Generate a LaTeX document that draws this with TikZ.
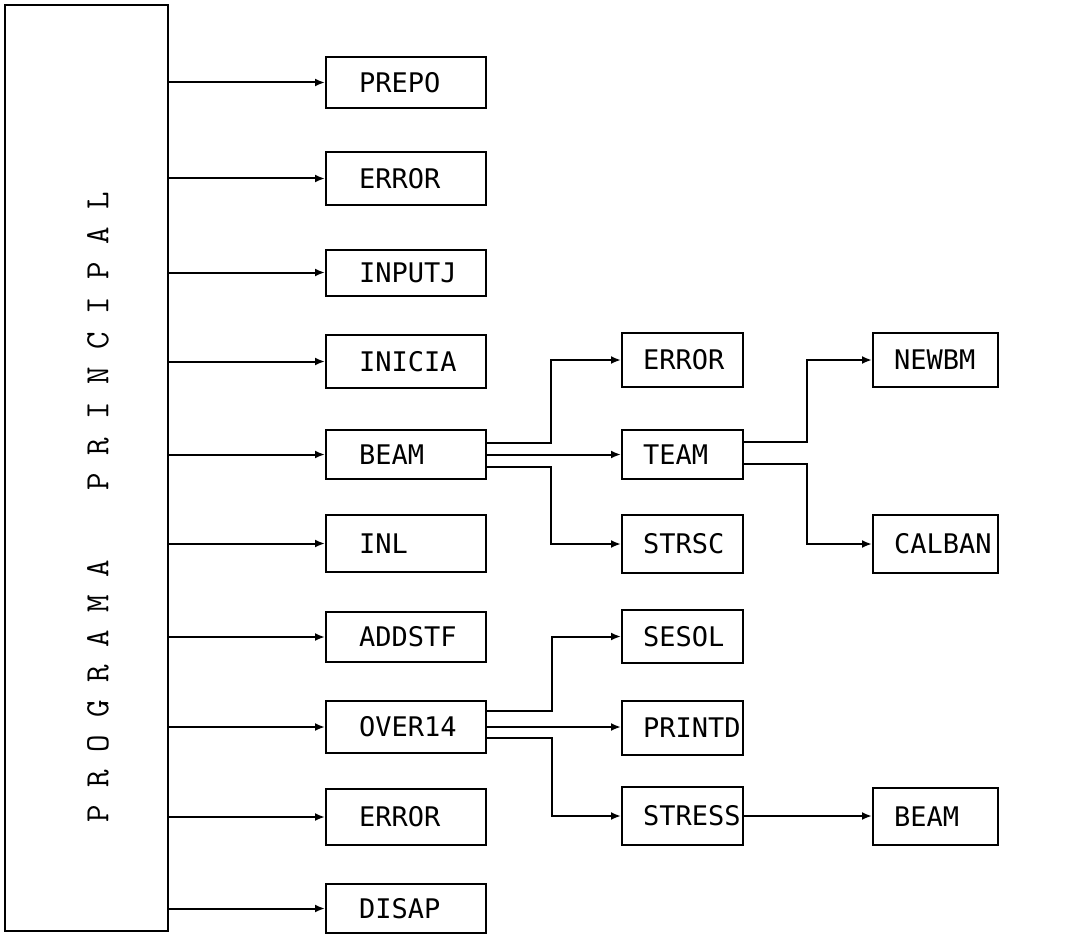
\documentclass[tikz,border=0pt]{standalone}
\usepackage{fontspec}
\usetikzlibrary{arrows.meta,calc}
\newfontfamily\labfont{DejaVu Sans Mono}
\begin{document}
\begin{tikzpicture}[x=1pt,y=-1pt,
  box/.style={draw,line width=2pt,font=\labfont\fontsize{27}{30}\selectfont,align=left,inner ysep=0pt,anchor=center},
  c2/.style={box,text width=94pt,inner xsep=33pt},
  c3/.style={box,text width=79pt,inner xsep=21pt},
  c4/.style={box,text width=83pt,inner xsep=21pt},
  arr/.style={line width=2pt,-{Latex[length=10pt,width=8pt]}}]
\fill[white] (0,0) rectangle (1089,936);
\useasboundingbox (0,0) rectangle (1089,936);
% main box
\node[draw,line width=2pt,minimum width=163pt,minimum height=926pt,inner sep=0pt] (main) at (86.5,468) {};
\node[rotate=90,font=\ttfamily\fontsize{34}{34}\selectfont,inner sep=0pt] (title) at (98,507.5)
  {P\ R\ O\ G\ R\ A\ M\ A\ \ \ \ P\ R\ I\ N\ C\ I\ P\ A\ L};
% column 2
\node[c2,minimum height=51pt] (prepo) at (406,82.5) {PREPO};
\node[c2,minimum height=53pt] (errA) at (406,178.5) {ERROR};
\node[c2,minimum height=46pt] (inputj) at (406,272.5) {INPUTJ};
\node[c2,minimum height=53pt] (inicia) at (406,361.5) {INICIA};
\node[c2,minimum height=49pt] (beam) at (406,454.5) {BEAM};
\node[c2,minimum height=57pt] (inl) at (406,543.5) {INL};
\node[c2,minimum height=50pt] (addstf) at (406,637) {ADDSTF};
\node[c2,minimum height=52pt] (over) at (406,727) {OVER14};
\node[c2,minimum height=56pt] (errB) at (406,817) {ERROR};
\node[c2,minimum height=49pt] (disap) at (406,908.5) {DISAP};
% column 3
\node[c3,minimum height=54pt] (errC) at (682.5,360) {ERROR};
\node[c3,minimum height=49pt] (team) at (682.5,454.5) {TEAM};
\node[c3,minimum height=58pt] (strsc) at (682.5,544) {STRSC};
\node[c3,minimum height=53pt] (sesol) at (682.5,636.5) {SESOL};
\node[c3,minimum height=54pt] (printd) at (682.5,728) {PRINTD};
\node[c3,minimum height=58pt] (stress) at (682.5,816) {STRESS};
% column 4
\node[c4,minimum height=54pt] (newbm) at (935.5,360) {NEWBM};
\node[c4,minimum height=58pt] (calban) at (935.5,544) {CALBAN};
\node[c4,minimum height=57pt] (beamB) at (935.5,816.5) {BEAM};
% arrows from main
\foreach \n in {prepo,errA,inputj,inicia,beam,inl,addstf,over,errB,disap}
  \draw[arr] (main.east |- \n.west) -- (\n.west);
% BEAM branches
\draw[arr] ([yshift=12pt]beam.east) -- ++(64,0) |- (errC.west);
\draw[arr] (beam.east) -- (team.west);
\draw[arr] ([yshift=-12pt]beam.east) -- ++(64,0) |- (strsc.west);
% TEAM branches
\draw[arr] ([yshift=13pt]team.east) -- ++(63,0) |- (newbm.west);
\draw[arr] ([yshift=-9pt]team.east) -- ++(63,0) |- (calban.west);
% OVER14 branches
\draw[arr] ([yshift=16pt]over.east) -- ++(65,0) |- (sesol.west);
\draw[arr] (over.east) -- (over.east -| printd.west);
\draw[arr] ([yshift=-11pt]over.east) -- ++(65,0) |- (stress.west);
% STRESS -> BEAM
\draw[arr] (stress.east) -- (stress.east -| beamB.west);
\end{tikzpicture}
\end{document}
